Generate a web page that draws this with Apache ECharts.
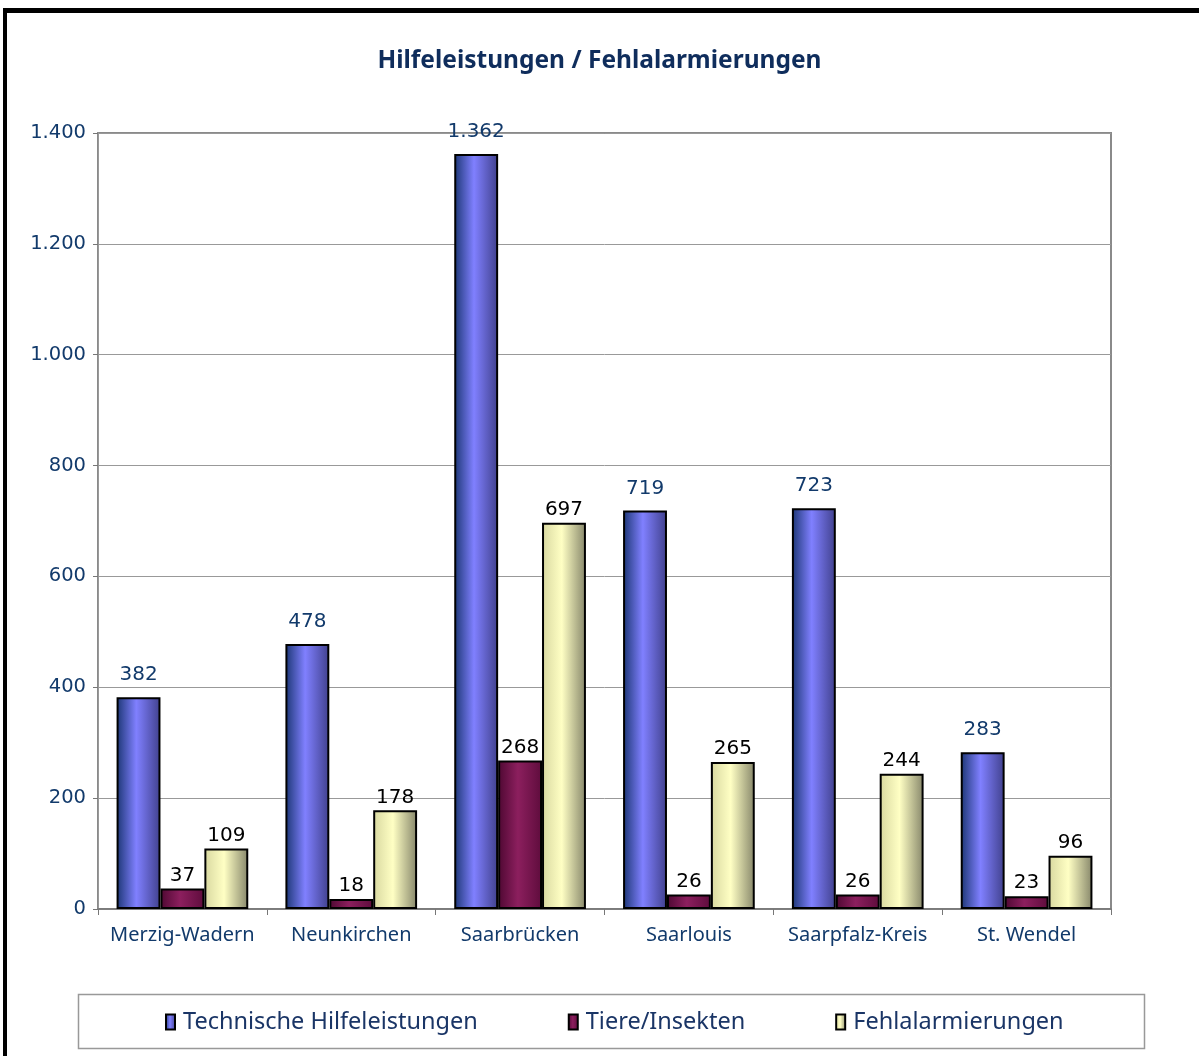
<!DOCTYPE html>
<html>
<head>
<meta charset="utf-8">
<script src="https://cdn.jsdelivr.net/npm/echarts@6/dist/echarts.min.js"></script>
<style>
html,body{margin:0;padding:0;background:#fff;}
#frame{position:absolute;left:3px;top:8px;width:1196px;height:1048px;border-top:5px solid #000;border-left:4px solid #000;box-sizing:border-box;}
#chart{position:absolute;left:0;top:0;width:1199px;height:1056px;}
</style>
</head>
<body>
<div id="frame"></div>
<div id="chart"></div>
<script>
const categories = ['Merzig-Wadern','Neunkirchen','Saarbrücken','Saarlouis','Saarpfalz-Kreis','St. Wendel'];
const technische = [382, 478, 1362, 719, 723, 283];
const tiere = [37, 18, 268, 26, 26, 23];
const fehlalarm = [109, 178, 697, 265, 244, 96];
const seriesNames = ['Technische Hilfeleistungen','Tiere/Insekten','Fehlalarmierungen'];

const navy = '#123a6b';
function fmt(v){ return String(v).replace(/\B(?=(\d{3})+(?!\d))/g,'.'); }
function grad(a,b,c){
  return new echarts.graphic.LinearGradient(0,0,1,0,[{offset:0,color:a},{offset:0.45,color:b},{offset:1,color:c}]);
}
const styles = [
  {color: grad('#1b3674','#8080ff','#40408c'), label: navy},
  {color: grad('#4e0832','#8c1f5e','#5e0c3c'), label: '#000'},
  {color: grad('#d8d8a0','#ffffc4','#86866a'), label: '#000'}
];
const datas = [technische, tiere, fehlalarm];

const chart = echarts.init(document.getElementById('chart'));
chart.setOption({
  animation:false,
  backgroundColor:'transparent',
  title:{
    text:'Hilfeleistungen / Fehlalarmierungen',
    left:'center', top:44,
    textStyle:{fontFamily:'Noto Sans', fontWeight:'bold', fontSize:24.5, color:'#0f2d5c'}
  },
  legend:{
    bottom:17, left:160,
    itemGap:90, itemWidth:9, itemHeight:15, icon:'rect',
    textStyle:{fontFamily:'Noto Sans', fontSize:23.5, color:'#1a3566', padding:[0,0,0,3]},
    data: seriesNames.map((n,i)=>({name:n, itemStyle:{borderColor:'#000', borderWidth:2}}))
  },
  graphic:[{
    type:'rect', left:76, top:992, shape:{width:1066, height:54},
    style:{fill:'none', stroke:'#999', lineWidth:1.5}, z:-1
  }],
  grid:{left:98, right:88, top:133, bottom:147, show:true, borderColor:'#8a8a8a', borderWidth:2},
  xAxis:{
    type:'category', data:categories,
    axisLine:{lineStyle:{color:'#777', width:1.5}},
    axisTick:{show:true, length:6, lineStyle:{color:'#777'}},
    axisLabel:{interval:0, fontFamily:'Noto Sans', fontSize:20, color:navy, margin:16}
  },
  yAxis:{
    type:'value', min:0, max:1400, interval:200,
    axisLine:{show:true, lineStyle:{color:'#999'}},
    axisTick:{show:true, length:5, lineStyle:{color:'#777'}},
    splitLine:{lineStyle:{color:'#999', width:1}},
    axisLabel:{fontFamily:'DejaVu Sans', fontSize:19.5, color:navy, margin:12, formatter:v=>fmt(v)}
  },
  series: seriesNames.map((n,i)=>({
    name:n, type:'bar', data:datas[i],
    barGap:'0%', barCategoryGap:'22%',
    itemStyle:{color:styles[i].color, borderColor:'#000', borderWidth:2},
    label:{show:true, position:'top', distance:i===0?12:3, fontFamily:'DejaVu Sans', fontSize:20, color:styles[i].label,
      formatter:p=>fmt(p.value)}
  }))
});
</script>
</body>
</html>
